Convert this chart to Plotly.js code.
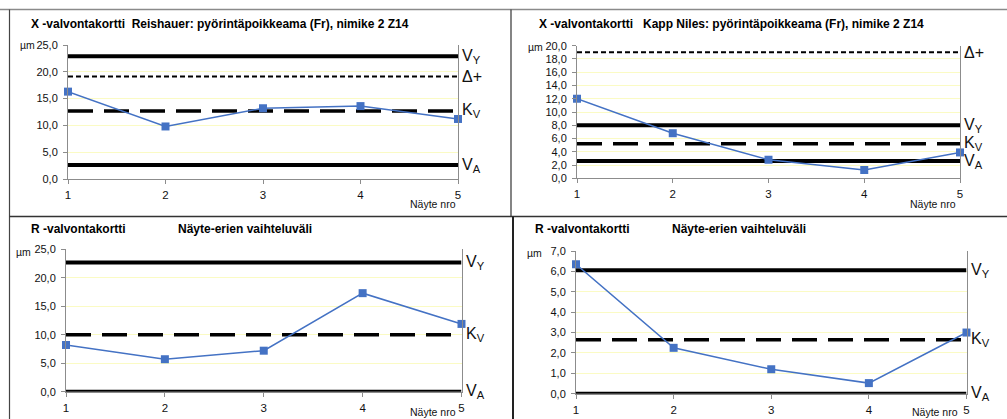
<!DOCTYPE html>
<html><head><meta charset="utf-8">
<script src="https://cdn.plot.ly/plotly-3.0.1.min.js"></script>
<style>html,body{margin:0;padding:0;background:#fff}#c{width:1007px;height:419px}</style>
</head><body><div id="c"></div>
<script>
// ---- data ----
const samples = [1, 2, 3, 4, 5];
const reishauerX = [16.3, 9.8, 13.2, 13.6, 11.2];
const kappX = [12.0, 6.8, 2.8, 1.25, 3.9];
const reishauerR = [8.2, 5.7, 7.2, 17.3, 11.9];
const kappR = [6.35, 2.25, 1.2, 0.52, 3.0];
// control limits: [VY, Δ+, KV, VA] (null = not shown)
const reishauerXLimits = [22.9, 19.1, 12.7, 2.6];
const kappXLimits = [8.0, 19.0, 5.2, 2.6];
const reishauerRLimits = [22.7, null, 10.0, 0];
const kappRLimits = [6.05, null, 2.65, 0];
const limitLabels = ["V<sub>Y</sub>", "Δ+", "K<sub>V</sub>", "V<sub>A</sub>"];
const yRanges = [[0, 25], [0, 20], [0, 25], [0, 7]];
const yDticks = [5, 2, 5, 1];
const titlesLeft = ["X -valvontakortti\u00a0\u00a0Reishauer: pyörintäpoikkeama (Fr), nimike 2 Z14",
                    "X -valvontakortti\u00a0\u00a0\u00a0Kapp Niles: pyörintäpoikkeama (Fr), nimike 2 Z14",
                    "R -valvontakortti", "R -valvontakortti"];
const titlesRight = [null, null, "Näyte-erien vaihteluväli", "Näyte-erien vaihteluväli"];
const unitLabel = "µm";
const xLabel = "Näyte nro";

// ---- layout geometry (pixels) ----
const W = 1007, H = 419;
const px = x => x / W, py = y => 1 - y / H;
const boxes = [
  {x0: 68, x1: 458, y0: 45, y1: 179, tx: 29, ty: 24, tx2: null, ux: 18, uy: 45, nx: 458, ny: 204},
  {x0: 577, x1: 960, y0: 45.7, y1: 178.3, tx: 537, ty: 24, tx2: null, ux: 526, uy: 47, nx: 958, ny: 204},
  {x0: 66, x1: 461.5, y0: 249.3, y1: 391.7, tx: 29, ty: 229, tx2: 176, ux: 14, uy: 252, nx: 458, ny: 412},
  {x0: 576, x1: 966.5, y0: 251, y1: 393.7, tx: 533, ty: 229, tx2: 670, ux: 525, uy: 253, nx: 960, ny: 412}
];
const seriesList = [reishauerX, kappX, reishauerR, kappR];
const limitsList = [reishauerXLimits, kappXLimits, reishauerRLimits, kappRLimits];
const limitStyles = [
  {width: 4, dash: "solid"},
  {width: 2, dash: "5px,3px"},
  {width: 3.5, dash: "25px,11px"},
  {width: 4, dash: "solid"}
];

const font = "Liberation Sans, Arial, sans-serif";
const traces = [];
const annotations = [];
const layout = {
  width: W, height: H, margin: {l: 0, r: 0, t: 0, b: 0},
  paper_bgcolor: "#fff", plot_bgcolor: "#fff", showlegend: false,
  separators: ", ", font: {family: font, size: 11, color: "#111"},
  annotations: annotations,
  shapes: [
    {type: "line", xref: "paper", yref: "paper", x0: px(0), x1: px(1007), y0: py(9.5), y1: py(9.5), line: {color: "#8a8a8a", width: 1.5}},
    {type: "line", xref: "paper", yref: "paper", x0: px(9.5), x1: px(9.5), y0: py(9.5), y1: py(419), line: {color: "#444", width: 1.2}},
    {type: "line", xref: "paper", yref: "paper", x0: px(9.5), x1: px(1007), y0: py(216.5), y1: py(216.5), line: {color: "#333", width: 1.5}},
    {type: "line", xref: "paper", yref: "paper", x0: px(511), x1: px(511), y0: py(9.5), y1: py(216.5), line: {color: "#333", width: 1.2}},
    {type: "line", xref: "paper", yref: "paper", x0: px(513), x1: px(513), y0: py(216.5), y1: py(419), line: {color: "#222", width: 2}}
  ]
};

boxes.forEach((b, i) => {
  const n = i + 1;
  const xa = "x" + (n === 1 ? "" : n), ya = "y" + (n === 1 ? "" : n);
  const xk = "xaxis" + (n === 1 ? "" : n), yk = "yaxis" + (n === 1 ? "" : n);
  layout[xk] = {
    domain: [px(b.x0), px(b.x1)], anchor: ya, range: [1, 5], dtick: 1, tick0: 1,
    showgrid: false, zeroline: false, showline: true, linecolor: "#8c8c8c", linewidth: 1,
    ticks: "outside", ticklen: 4, tickcolor: "#8c8c8c", ticklabelstandoff: 1,
    tickfont: {size: 11.5, color: "#111"}, fixedrange: true
  };
  layout[yk] = {
    domain: [py(b.y1), py(b.y0)], anchor: xa, range: yRanges[i], dtick: yDticks[i], tick0: 0,
    tickformat: ".1f", showgrid: true, gridcolor: "#fbfbc4", gridwidth: 1, zeroline: false,
    showline: true, mirror: true, linecolor: "#8c8c8c", linewidth: 1,
    ticks: "outside", ticklen: 4, tickcolor: "#8c8c8c", ticklabelstandoff: 3,
    tickfont: {size: 11, color: "#111"}, fixedrange: true
  };
  const lim = limitsList[i];
  lim.forEach((v, k) => {
    if (v === null) return;
    traces.push({x: [samples[0], samples[samples.length - 1]], y: [v, v], xaxis: xa, yaxis: ya,
      mode: "lines", line: {color: "#000", width: limitStyles[k].width, dash: limitStyles[k].dash},
      hoverinfo: "skip"});
    annotations.push({x: samples[samples.length - 1], y: v, xref: xa, yref: ya, text: limitLabels[k],
      showarrow: false, xanchor: "left", yanchor: "middle", xshift: 2, font: {size: 16, color: "#111", family: font}});
  });
  traces.push({x: samples, y: seriesList[i], xaxis: xa, yaxis: ya, mode: "lines+markers",
    line: {color: "#4472C4", width: 1.5}, marker: {symbol: "square", size: 8, color: "#4472C4"},
    cliponaxis: false});
  annotations.push({x: px(b.tx), y: py(b.ty), xref: "paper", yref: "paper", text: "<b>" + titlesLeft[i] + "</b>",
    showarrow: false, xanchor: "left", yanchor: "middle", font: {size: 12, color: "#000", family: font}});
  if (titlesRight[i]) annotations.push({x: px(b.tx2), y: py(b.ty), xref: "paper", yref: "paper",
    text: "<b>" + titlesRight[i] + "</b>", showarrow: false, xanchor: "left", yanchor: "middle",
    font: {size: 12, color: "#000", family: font}});
  annotations.push({x: px(b.ux), y: py(b.uy), xref: "paper", yref: "paper", text: unitLabel, showarrow: false,
    xanchor: "left", yanchor: "middle", font: {size: 10.5, color: "#111", family: font}});
  annotations.push({x: px(b.nx), y: py(b.ny), xref: "paper", yref: "paper", text: xLabel, showarrow: false,
    xanchor: "right", yanchor: "middle", font: {size: 10.5, color: "#111", family: font}});
});

Plotly.newPlot("c", traces, layout, {staticPlot: true, displayModeBar: false});
</script></body></html>
